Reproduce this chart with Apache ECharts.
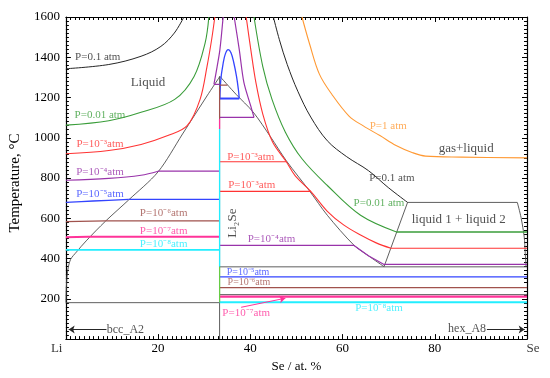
<!DOCTYPE html>
<html><head><meta charset="utf-8">
<script src="https://cdn.jsdelivr.net/npm/echarts@6/dist/echarts.min.js"></script>
<style>html,body{margin:0;padding:0;background:#fff}#c{width:550px;height:378px}</style>
</head><body><div id="c"></div><script>
const FONT = '"Liberation Serif","Times New Roman",serif';
const GRAY='#4d4d4d', BLACK='#262626', GREEN='#3a9d3a', RED='#ff3333', PURPLE='#9933aa',
      BLUE='#3344ff', BROWN='#a0524d', PINK='#ff3399', CYAN='#22eeff', ORANGE='#ff9933';

// axis ticks
const xTickNames = {20:'20', 40:'40', 60:'60', 80:'80'};
const xEndNames = ['Li', 'Se'];
const yTickValues = [200,400,600,800,1000,1200,1400,1600];

// phase boundaries (gray)
const liquidusLeft = [[0,181],[0.1,260],[0.4,340],[1.0,395],[2.3,433],[4.4,488],[8.6,586],[13.6,691],[20,831],[25.3,1019],[30.6,1208],[33.4,1305]];
const liquidusRight = [[33.4,1305],[36.9,1216],[40.6,1128],[44.4,1004],[47.8,886],[52.9,734],[56.7,615],[62.4,468],[65.6,414],[69.0,360]];
const li2seLine = [[33.33,0],[33.33,1305]];
const liMelt = [[0,181],[33.33,181]];
const monotectic = [[33.33,359],[100,359]];
const seEutectic = [[33.33,221],[100,221]];
const gapTop = [[74.1,679],[97.9,679]];
const gapLeft = [[74.1,679],[69.0,360]];
const gapRight = [[97.9,679],[98.7,605],[99.4,507],[99.6,433],[99.8,360]];

// P = 1 atm
const p1 = [[51.2,1600],[52.9,1462],[55.0,1315],[57.7,1215],[61.4,1108],[64.5,1059],[68.1,1011],[71.6,962],[75.2,926],[78.0,909],[85.8,904],[100,900]];
// P = 0.1 atm
const p01Left = [[0,1343],[9.3,1364],[16.3,1405],[20.6,1454],[23.5,1520],[25.6,1600]];
const p01Right = [[45.0,1600],[46.3,1487],[48.0,1364],[50.3,1231],[53.1,1103],[56.7,985],[60.9,906],[65.6,837],[69.9,753],[74.1,679]];
// P = 0.01 atm
const p001Left = [[0,1063],[9.3,1085],[16.3,1127],[23.6,1191],[27.8,1305],[30.2,1472],[31.0,1600]];
const p001Right = [[40.8,1600],[42.7,1354],[44.7,1191],[47.6,1028],[51.2,896],[56.7,763],[63.9,615],[71.7,532]];
const p001Flat = [[71.7,532],[100,532]];
// P = 1e-3 atm
const p3Left = [[0,921],[9.3,937],[16.3,967],[22.1,1011],[26.3,1060],[29.1,1191],[30.6,1354],[31.6,1487],[32.3,1600]];
const p3Right = [[39.1,1600],[40.1,1438],[41.2,1275],[42.7,1118],[44.8,980],[47.8,881],[49.7,812],[53.1,734],[56.7,635],[60.3,566],[63.9,517],[67.3,478],[70.5,451]];
const p3FlatA = [[33.33,881],[47.8,881]];
const p3FlatB = [[33.33,734],[53.1,734]];
const p3Flat = [[70.5,451],[100,451]];
// P = 1e-4 atm
const p4Left = [[0,789],[9.3,798],[16.3,814],[20.0,834]];
const p4LeftFlat = [[20.0,834],[33.33,834]];
const p4TopLeft = [[34.1,1600],[33.4,1438],[32.8,1354],[32.1,1265]];
const p4TopLeftFlat = [[32.1,1265],[33.33,1265]];
const p4TopRight = [[36.5,1600],[37.6,1438],[38.6,1275],[40.1,1157],[40.8,1101]];
const p4TopRightFlat = [[33.33,1101],[40.8,1101]];
const p4Low = [[33.33,466],[62.4,466],[65.6,414],[69.0,371],[100,371]];
// P = 1e-5 atm
const p5Left = [[0,679],[5.9,686],[13.6,694]];
const p5LeftFlat = [[13.6,694],[33.33,694]];
const p5Dome = [[33.4,1191],[33.6,1290],[34.1,1369],[34.6,1418],[35.2,1438],[35.8,1423],[36.4,1374],[37.0,1305],[37.4,1241],[37.6,1195]];
const p5DomeFlat = [[33.33,1195],[37.6,1195]];
const p5Right = [[33.33,309],[100,309]];
// P = 1e-6 atm
const p6Left = [[0,584],[8.6,587],[33.33,587]];
const p6Top = [[33.33,1262],[35.0,1262]];
const p6Vert = [[33.33,1255],[33.33,1095]];
const p6Right = [[33.33,256],[100,256]];
// P = 1e-7 atm
const p7Left = [[0,506],[4.8,509],[33.33,509]];
const p7Vert = [[33.33,1095],[33.33,1044]];
const p7Right = [[33.33,211],[100,211]];
// P = 1e-8 atm
const p8Left = [[0,443],[33.33,443]];
const p8Vert = [[33.33,1044],[33.33,359]];
const p8Right = [[33.33,183],[100,183]];
const greenVert = [[33.33,359],[33.33,183]];

// annotations: text, x (at.%), T (°C), colour, font size, rotation
const notes = [
  ['P=0.1 atm', 6.9, 1402, BLACK, 11],
  ['Liquid', 17.8, 1274, BLACK, 13],
  ['P=0.01 atm', 7.4, 1114, GREEN, 11],
  ['P=10⁻³atm', 7.4, 967, RED, 11],
  ['P=10⁻⁴atm', 7.4, 829, PURPLE, 11],
  ['P=10⁻⁵atm', 7.4, 720, BLUE, 11],
  ['P=10⁻⁶atm', 21.2, 625, BROWN, 11],
  ['P=10⁻⁷atm', 21.2, 538, PINK, 11],
  ['P=10⁻⁸atm', 21.2, 473, CYAN, 11],
  ['bcc_A2', 12.9, 48, BLACK, 12],
  ['hex_A8', 87.0, 50, BLACK, 12],
  ['P=10⁻³atm', 40.1, 906, RED, 11],
  ['P=10⁻³atm', 40.3, 763, RED, 11],
  ['Li₂Se', 36.1, 576, BLACK, 13, 90],
  ['P=10⁻⁴atm', 44.6, 497, PURPLE, 11],
  ['P=10⁻⁵atm', 39.5, 330, BLUE, 10],
  ['P=10⁻⁶atm', 39.7, 281, BROWN, 10],
  ['P=10⁻⁷atm', 39.1, 129, PINK, 11],
  ['P=10⁻⁸atm', 67.9, 153, CYAN, 11],
  ['P=1 atm', 69.9, 1059, ORANGE, 11],
  ['gas+liquid', 86.8, 945, BLACK, 13],
  ['P=0.1 atm', 70.7, 798, BLACK, 11],
  ['P=0.01 atm', 67.9, 675, GREEN, 11],
  ['liquid 1 + liquid 2', 85.2, 592, BLACK, 13],
  [xEndNames[0], -2.0, -48, '#000', 13],
  [xEndNames[1], 101.3, -48, '#000', 13]
];
// arrows: from, to, colour
const arrows = [
  [[8.8,48],[0.6,48], BLACK],
  [[91.3,48],[99.5,48], BLACK],
  [[38.0,158],[47.6,203], PINK]
];

function L(data, color, width, smooth, z) {
  return {type:'line', data: data, symbol:'none', showSymbol:false, smooth: smooth || false,
    lineStyle:{color: color, width: width}, z: z || 3, silent: true, clip: true, animation:false};
}

const series = [
  L(liquidusLeft, GRAY, 0.9, 0.3, 2), L(liquidusRight, GRAY, 0.9, 0.3, 2),
  L(li2seLine, GRAY, 0.9, false, 2), L(liMelt, GRAY, 0.9, false, 2),
  L(monotectic, GRAY, 0.9, false, 2), L(seEutectic, GRAY, 0.9, false, 2),
  L(gapTop, GRAY, 0.9, false, 2), L(gapLeft, GRAY, 0.9, false, 2), L(gapRight, GRAY, 0.9, 0.3, 2),
  L(p1, ORANGE, 1.1, 0.35),
  L(p01Left, BLACK, 1.0, 0.35), L(p01Right, BLACK, 1.0, 0.35),
  L(p001Left, GREEN, 1.1, 0.35), L(p001Right, GREEN, 1.1, 0.35), L(p001Flat, GREEN, 1.3),
  L(p3Left, RED, 1.1, 0.35), L(p3Right, RED, 1.1, 0.35), L(p3FlatA, RED, 1.1), L(p3FlatB, RED, 1.1), L(p3Flat, RED, 1.1),
  L(p4Left, PURPLE, 1.2, 0.35), L(p4LeftFlat, PURPLE, 1.2), L(p4TopLeft, PURPLE, 1.2, 0.3), L(p4TopLeftFlat, PURPLE, 1.2),
  L(p4TopRight, PURPLE, 1.2, 0.3), L(p4TopRightFlat, PURPLE, 1.2), L(p4Low, PURPLE, 1.2),
  L(p5Left, BLUE, 1.3, 0.3), L(p5LeftFlat, BLUE, 1.3), L(p5Dome, BLUE, 1.3, 0.4), L(p5DomeFlat, BLUE, 2), L(p5Right, BLUE, 1.3),
  L(p6Left, BROWN, 1.2), L(p6Top, BROWN, 1.2), L(p6Vert, BROWN, 1.2), L(p6Right, BROWN, 1.2),
  L(p7Left, PINK, 2), L(p7Vert, PINK, 1.3), L(p7Right, PINK, 2.2),
  L(p8Left, CYAN, 1.6), L(p8Vert, CYAN, 1.3), L(p8Right, CYAN, 1.8),
  L(greenVert, '#66cc44', 1.2),
  {type:'line', data:[], symbol:'none', silent:true, z:5,
    markLine:{silent:true, symbol:['none','arrow'], symbolSize:6, animation:false,
      label:{show:false},
      data: arrows.map(a => [{coord:a[0], lineStyle:{color:a[2], width:1, type:'solid'}}, {coord:a[1]}])}},
  {type:'scatter', symbol:'circle', symbolSize:1, itemStyle:{color:'rgba(0,0,0,0)'}, silent:true, z:6, clip:false,
    data: notes.map(n => ({value:[n[1], n[2]], label:{show:true, position:'inside', formatter:n[0],
      color:n[3], fontSize:n[4], fontFamily:FONT, rotate:n[5] || 0}}))}
];

const tickStyle = {color:'#000', width:1};
const chart = echarts.init(document.getElementById('c'));
chart.setOption({
  animation:false,
  backgroundColor:'#fff',
  grid:{left:56, right:23, top:17, bottom:36, containLabel:false},
  xAxis:[
    {type:'value', min:0, max:100, interval:20, position:'bottom',
      axisLine:{show:true, onZero:false, lineStyle:{color:'#000', width:1.2}},
      axisTick:{show:true, inside:true, length:5, lineStyle:tickStyle},
      minorTick:{show:true, splitNumber:20, length:3, lineStyle:tickStyle},
      splitLine:{show:false},
      axisLabel:{color:'#000', fontFamily:FONT, fontSize:13, margin:3,
        formatter: v => xTickNames[v] !== undefined ? xTickNames[v] : ''},
      name:'Se / at. %', nameLocation:'middle', nameGap:18,
      nameTextStyle:{color:'#000', fontFamily:FONT, fontSize:13}},
    {type:'value', min:0, max:100, interval:20, position:'top',
      axisLine:{show:true, onZero:false, lineStyle:{color:'#000', width:1.2}},
      axisTick:{show:true, inside:true, length:5, lineStyle:tickStyle},
      minorTick:{show:true, splitNumber:20, length:3, lineStyle:tickStyle},
      splitLine:{show:false}, axisLabel:{show:false}}
  ],
  yAxis:[
    {type:'value', min:0, max:1600, interval:200, position:'left',
      axisLine:{show:true, onZero:false, lineStyle:{color:'#000', width:1.2}},
      axisTick:{show:true, inside:true, length:5, lineStyle:tickStyle},
      minorTick:{show:true, splitNumber:10, length:3, lineStyle:tickStyle},
      splitLine:{show:false},
      axisLabel:{color:'#000', fontFamily:FONT, fontSize:13, margin:6,
        formatter: v => yTickValues.indexOf(v) >= 0 ? String(v) : ''},
      name:'Temperature, °C', nameLocation:'middle', nameGap:35, nameRotate:90,
      nameTextStyle:{color:'#000', fontFamily:FONT, fontSize:15, padding:[0,10,0,0]}},
    {type:'value', min:0, max:1600, interval:200, position:'right',
      axisLine:{show:true, onZero:false, lineStyle:{color:'#000', width:1.2}},
      axisTick:{show:true, inside:true, length:5, lineStyle:tickStyle},
      minorTick:{show:true, splitNumber:10, length:3, lineStyle:tickStyle},
      splitLine:{show:false}, axisLabel:{show:false}}
  ],
  series: series
});
</script></body></html>
